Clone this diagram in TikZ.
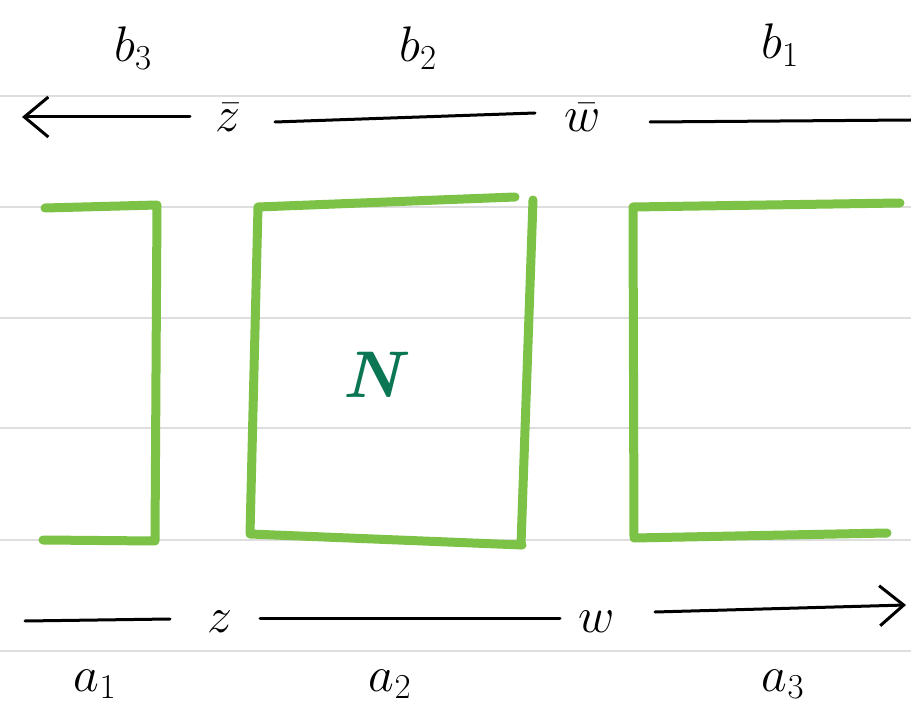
\RequirePackage{fix-cm}
\documentclass[tikz,border=0pt]{standalone}
\usetikzlibrary{arrows.meta}
\definecolor{rule}{RGB}{222,222,222}
\definecolor{lgreen}{RGB}{124,194,70}
\definecolor{dgreen}{RGB}{10,118,84}
\begin{document}
\begin{tikzpicture}[x=1pt,y=-1pt,
  ruled/.style={draw=rule,line width=1.5pt},
  stroke/.style={draw=lgreen,line width=9pt,line cap=round,line join=round},
  lab/.style={font=\fontsize{50}{54}\selectfont,inner sep=0pt},
  conn/.style={draw=black,line width=3pt,line cap=round},
  tip/.style={-{Straight Barb[length=24pt,width=40pt,line width=3pt]}}]
\useasboundingbox (0,0) rectangle (911,711);
\fill[white] (0,0) rectangle (911,711);
% ruled paper
\foreach \yy in {96,207,318,428,540,651}
  \draw[ruled] (0,\yy) -- (911,\yy);
% labels
\node[lab] (b3) at (133,48) {$b_3$};
\node[lab] (b2) at (418,48) {$b_2$};
\node[lab] (b1) at (780,45) {$b_1$};
\node[lab] (zb) at (228,118) {$\bar z$};
\node[lab] (wb) at (583,118) {$\bar w$};
\node[lab] (z) at (220,622) {$z$};
\node[lab] (w) at (597,622) {$w$};
\node[lab] (a1) at (95,684) {$a_1$};
\node[lab] (a2) at (390,684) {$a_2$};
\node[lab] (a3) at (783,684) {$a_3$};
\node[font=\fontsize{66}{66}\selectfont\bfseries\itshape,text=dgreen] (N) at (372,375) {N};
% top line
\coordinate (tl) at (22,117);
\coordinate (tr) at (911,120);
\draw[conn,tip] ([xshift=-38pt,yshift=1pt]zb.center) -- (tl);
\draw[conn] ([xshift=47pt,yshift=-4pt]zb.center) -- ([xshift=-48pt,yshift=5pt]wb.center);
\draw[conn] ([xshift=67pt,yshift=-4pt]wb.center) -- (tr);
% bottom line
\coordinate (bl) at (25,621);
\coordinate (br) at (906,605);
\draw[conn] (bl) -- ([xshift=-50pt,yshift=3pt]z.center);
\draw[conn] ([xshift=40pt,yshift=4pt]z.center) -- ([xshift=-37pt,yshift=4pt]w.center);
\draw[conn,tip] ([xshift=58pt,yshift=10pt]w.center) -- (br);
% green strokes
\draw[stroke] (45,208) -- (157,205) -- (155,541) -- (43,540);
\draw[stroke] (515,197) -- (258,207) -- (250,534) -- (522,545);
\draw[stroke] (533,200) -- (521,545);
\draw[stroke] (900,203) -- (633,207) -- (634,538) -- (887,533);
\end{tikzpicture}
\end{document}
